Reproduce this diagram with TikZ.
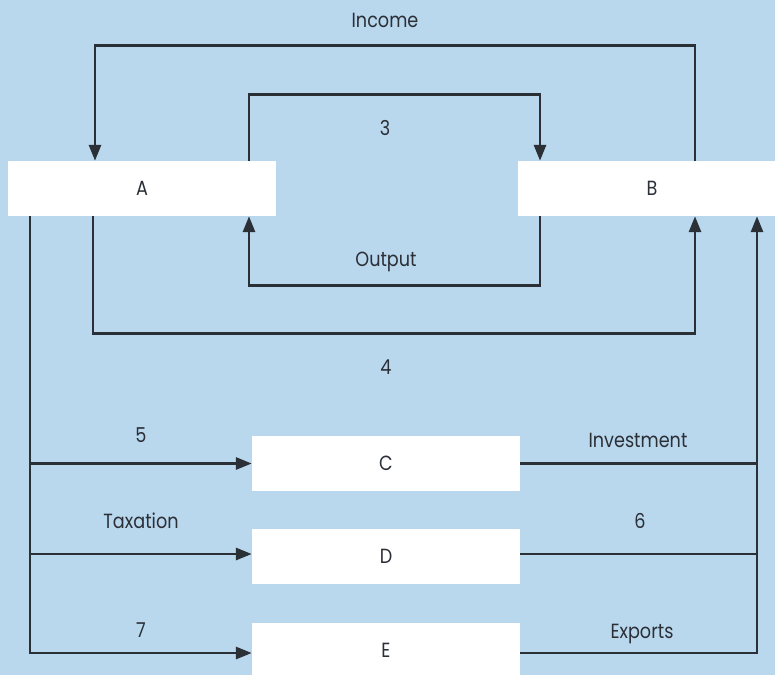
\documentclass[tikz,border=0pt]{standalone}
\usepackage{fontspec}
\setmainfont{Poppins}[FakeStretch=0.86]
\usetikzlibrary{arrows.meta,calc}
\definecolor{bgblue}{HTML}{B9D8EE}
\definecolor{ink}{HTML}{2B2F36}
\tikzset{
  box/.style={fill=white, minimum width=268pt, minimum height=55pt, inner sep=0pt, text=ink},
  flow/.style={draw=ink, line width=2.9pt, -{Triangle[length=16pt,width=12pt]}},
  plain/.style={draw=ink, line width=2.9pt},
  lbl/.style={text=ink, anchor=base, inner sep=0pt},
}
\begin{document}
\begin{tikzpicture}[x=1pt,y=-1pt,font=\fontsize{20.5}{24}\selectfont]
    \fill[bgblue] (0,0) rectangle (775,675);
    \useasboundingbox (0,0) rectangle (775,675);

    \node[box] (A) at (142,188.5) {A};
    \node[box] (B) at (652,188.5) {B};
    \node[box] (C) at (386,463.5) {C};
    \node[box] (D) at (386,556.5) {D};
    \node[box] (E) at (386,650.5) {E};

    \coordinate (ltrunk) at ([xshift=-112pt]A.south);
    \coordinate (rtrunk) at ([xshift=105pt]B.south);
    \coordinate (dwest) at ([yshift=2.5pt]D.west);
    \coordinate (deast) at ([yshift=2.5pt]D.east);
    \coordinate (ewest) at ([yshift=-2.5pt]E.west);
    \coordinate (eeast) at ([yshift=-2.5pt]E.east);

    \draw[flow] ([xshift=43pt]B.north) -- ++(0,-115) -| ([xshift=-47pt]A.north);
    \draw[flow] ([xshift=107pt]A.north) -- ++(0,-66) -| ([xshift=-112pt]B.north);
    \draw[flow] ([xshift=-112pt]B.south) -- ++(0,69) -| ([xshift=107pt]A.south);
    \draw[flow] ([xshift=-49pt]A.south) -- ++(0,117) -| ([xshift=43pt]B.south);

    \draw[flow] (ltrunk) |- (ewest);
    \draw[flow] (ltrunk |- C.west) -- (C.west);
    \draw[flow] (ltrunk |- dwest) -- (dwest);

    \draw[flow] (eeast) -| (rtrunk);
    \draw[plain] (C.east) -- (rtrunk |- C.east);
    \draw[plain] (deast) -- (rtrunk |- deast);

    \node[lbl] (income) at (385,27) {Income};
    \node[lbl] (three) at (385,135.5) {3};
    \node[lbl] (output) at (386,266.5) {Output};
    \node[lbl] (four) at (386,374.5) {4};
    \node[lbl] (five) at (141,442.5) {5};
    \node[lbl] (tax) at (141,528.5) {Taxation};
    \node[lbl] (seven) at (141,637.5) {7};
    \node[lbl] (invest) at (638,447.5) {Investment};
    \node[lbl] (six) at (640,528.5) {6};
    \node[lbl] (exports) at (642,638.5) {Exports};
\end{tikzpicture}
\end{document}
